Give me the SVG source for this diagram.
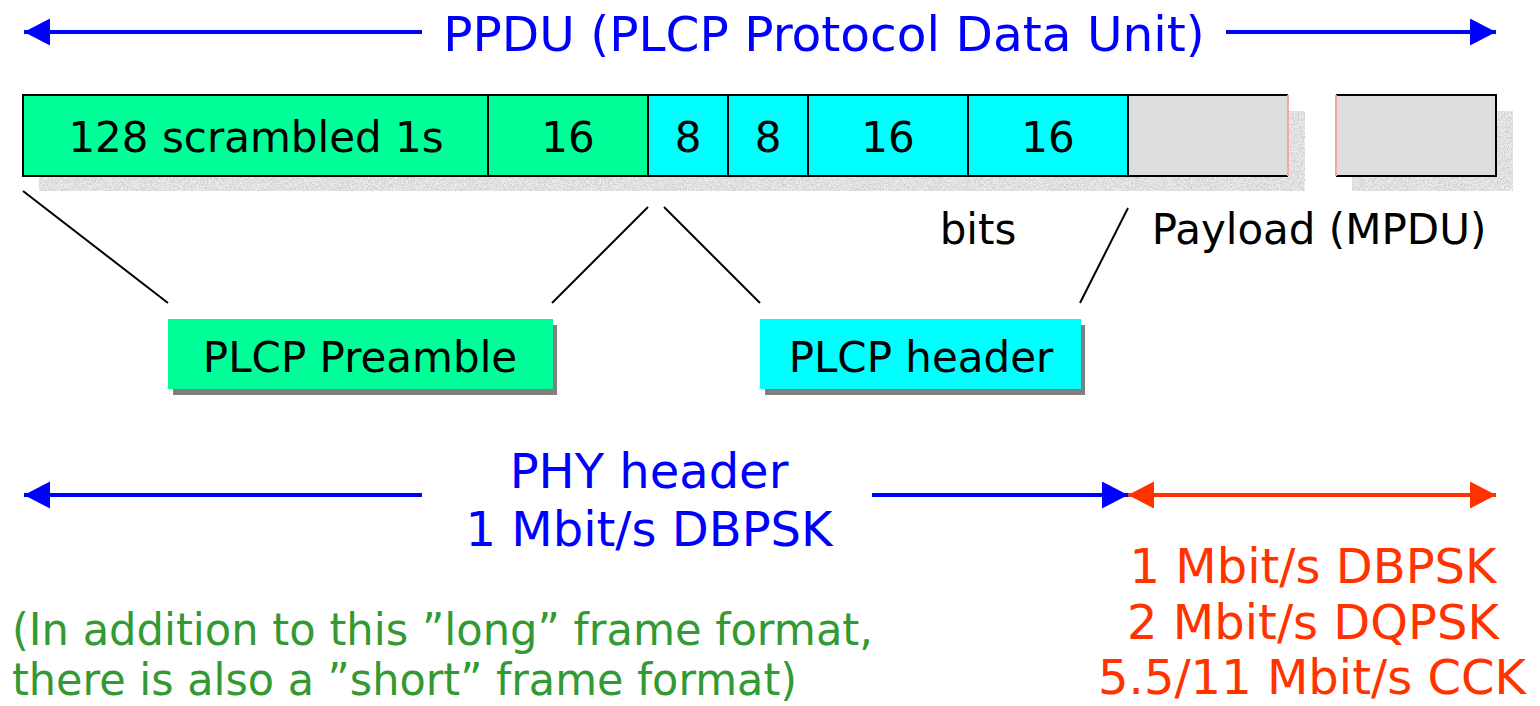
<svg xmlns="http://www.w3.org/2000/svg" width="1540" height="706" viewBox="0 0 1540 706">
  <defs>
    <style>
      .lbl { font-family: "DejaVu Sans", Verdana, sans-serif; font-size: 42px; fill: #000; text-anchor: middle; }
      .blue { font-family: "DejaVu Sans", Verdana, sans-serif; font-size: 48px; fill: #0000ff; text-anchor: middle; }
      .red { font-family: "DejaVu Sans", Verdana, sans-serif; font-size: 48px; fill: #ff3300; text-anchor: middle; }
      .note { font-family: "DejaVu Sans", Verdana, sans-serif; font-size: 44px; fill: #339933; }
      .cell { stroke: #000; stroke-width: 2; }
      .pre { fill: #00ff99; }
      .hdr { fill: #00ffff; }
      .pay { fill: #dddddd; }
      .shade { fill: #808080; }
      .lead { stroke: #000; stroke-width: 2; fill: none; }
      .arrB { stroke: #0000ff; stroke-width: 4; fill: none; }
      .arrR { stroke: #ff3300; stroke-width: 4; fill: none; }
    </style>
    <filter id="grain" x="0" y="0" width="1" height="1">
      <feTurbulence type="fractalNoise" baseFrequency="1.3" numOctaves="1" seed="3" result="n"/>
      <feColorMatrix in="n" type="matrix" values="0.7 0 0 0 0.4  0.7 0 0 0 0.4  0.7 0 0 0 0.4  0 0 0 0 1" result="g"/>
      <feComposite in="g" in2="SourceGraphic" operator="in"/>
    </filter>
    <marker id="headB" markerUnits="userSpaceOnUse" markerWidth="28" markerHeight="28" refX="26" refY="13.5" orient="auto">
      <path d="M0,0 L26,13.5 L0,27 z" fill="#0000ff"/>
    </marker>
    <marker id="headR" markerUnits="userSpaceOnUse" markerWidth="28" markerHeight="28" refX="26" refY="13.5" orient="auto">
      <path d="M0,0 L26,13.5 L0,27 z" fill="#ff3300"/>
    </marker>
  </defs>

  <rect width="1540" height="706" fill="#fff"/>

  <!-- PPDU span -->
  <g id="ppdu">
    <line class="arrB" x1="422" y1="32" x2="24" y2="32" marker-end="url(#headB)"/>
    <line class="arrB" x1="1226" y1="32" x2="1496" y2="32" marker-end="url(#headB)"/>
    <text class="blue" x="824" y="51" style="font-size:48.6px">PPDU (PLCP Protocol Data Unit)</text>
  </g>

  <!-- textured drop shadows under the frame -->
  <g id="frame-shadow" filter="url(#grain)">
    <rect x="39" y="111" width="1266" height="80" fill="#000"/>
    <rect x="1352" y="111" width="161" height="80" fill="#000"/>
  </g>

  <!-- frame fields -->
  <g id="sync">
    <rect class="cell pre" x="23" y="95" width="465" height="81"/>
    <text class="lbl" x="256" y="152">128 scrambled 1s</text>
  </g>
  <g id="sfd">
    <rect class="cell pre" x="488" y="95" width="160" height="81"/>
    <text class="lbl" x="568" y="152">16</text>
  </g>
  <g id="signal">
    <rect class="cell hdr" x="648" y="95" width="80" height="81"/>
    <text class="lbl" x="688" y="152">8</text>
  </g>
  <g id="service">
    <rect class="cell hdr" x="728" y="95" width="80" height="81"/>
    <text class="lbl" x="768" y="152">8</text>
  </g>
  <g id="length">
    <rect class="cell hdr" x="808" y="95" width="160" height="81"/>
    <text class="lbl" x="888" y="152">16</text>
  </g>
  <g id="crc">
    <rect class="cell hdr" x="968" y="95" width="160" height="81"/>
    <text class="lbl" x="1048" y="152">16</text>
  </g>
  <g id="payload-a">
    <rect class="pay" x="1128" y="95" width="160" height="81"/>
    <path class="lead" d="M1288,95 H1128 V176 H1288"/>
    <line x1="1288" y1="95" x2="1288" y2="176" stroke="#f0a8a8" stroke-width="2"/>
  </g>
  <g id="payload-b">
    <rect class="pay" x="1336" y="95" width="160" height="81"/>
    <path class="lead" d="M1336,95 H1496 V176 H1336"/>
    <line x1="1336" y1="95" x2="1336" y2="176" stroke="#f0a8a8" stroke-width="2"/>
  </g>

  <g id="bits-label">
    <text class="lbl" x="978" y="244">bits</text>
  </g>
  <g id="payload-label">
    <text class="lbl" x="1319" y="244">Payload (MPDU)</text>
  </g>

  <!-- leader lines from the frame to the group boxes -->
  <g id="connectors">
    <line class="lead" x1="23" y1="191" x2="168" y2="303"/>
    <line class="lead" x1="648" y1="207" x2="552" y2="303"/>
    <line class="lead" x1="664" y1="207" x2="760" y2="303"/>
    <line class="lead" x1="1128" y1="208" x2="1080" y2="303"/>
  </g>

  <g id="plcp-preamble">
    <rect class="shade" x="173" y="325" width="384" height="70"/>
    <rect class="pre" x="168" y="319" width="385" height="70"/>
    <text class="lbl" x="360" y="372">PLCP Preamble</text>
  </g>
  <g id="plcp-header">
    <rect class="shade" x="765" y="325" width="320" height="70"/>
    <rect class="hdr" x="760" y="319" width="321" height="70"/>
    <text class="lbl" x="921" y="372">PLCP header</text>
  </g>

  <!-- rate spans -->
  <g id="phy-span">
    <line class="arrB" x1="422" y1="495" x2="24" y2="495" marker-end="url(#headB)"/>
    <line class="arrB" x1="872" y1="495" x2="1128" y2="495" marker-end="url(#headB)"/>
    <text class="blue" x="649" y="488">PHY header</text>
    <text class="blue" x="649" y="546">1 Mbit/s DBPSK</text>
  </g>
  <g id="payload-span">
    <line class="arrR" x1="1300" y1="495" x2="1128" y2="495" marker-end="url(#headR)"/>
    <line class="arrR" x1="1300" y1="495" x2="1496" y2="495" marker-end="url(#headR)"/>
    <text class="red" x="1313" y="583">1 Mbit/s DBPSK</text>
    <text class="red" x="1313" y="639">2 Mbit/s DQPSK</text>
    <text class="red" x="1312" y="694">5.5/11 Mbit/s CCK</text>
  </g>

  <g id="note">
    <text class="note" x="12" y="645" textLength="861" lengthAdjust="spacingAndGlyphs">(In addition to this ”long” frame format,</text>
    <text class="note" x="12" y="695" textLength="785" lengthAdjust="spacingAndGlyphs">there is also a ”short” frame format)</text>
  </g>
</svg>
